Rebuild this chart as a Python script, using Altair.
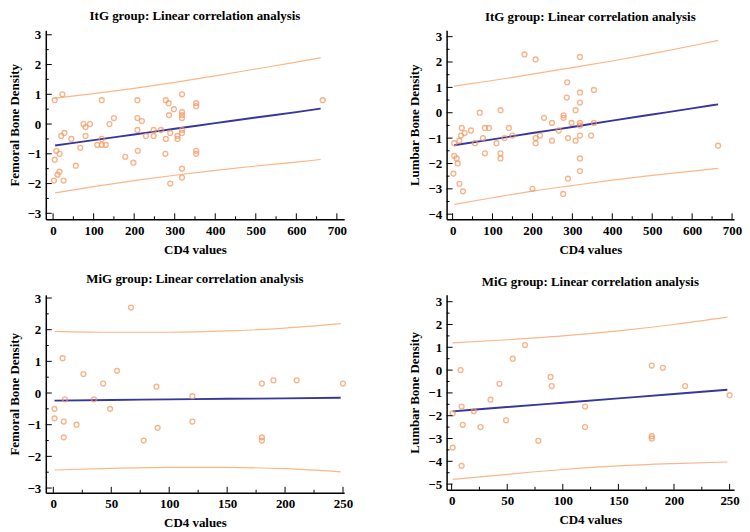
import altair as alt
import pandas as pd

# ---------------- data ----------------
# Panel 1: ItG group, Femoral Bone Density
p1_x = [4, 23, 120, 208, 278, 285, 298, 318, 318, 318, 318, 353, 353, 286, 208,
        219, 150, 139, 75, 91, 80, 20, 28, 45, 80, 67, 109, 120, 130, 120,
        208, 229, 248, 248, 266, 278, 289, 307, 307, 318, 318, 209, 277, 353, 353,
        8, 16, 4, 56, 178, 198, 16, 11, 2, 26, 318, 318, 289, 665]
p1_y = [0.8, 1.0, 0.8, 0.8, 0.8, 0.7, 0.5, 1.0, 0.4, 0.3, 0.2, 0.7, 0.6, 0.3, 0.2,
        0.1, 0.2, 0.0, 0.0, 0.0, -0.1, -0.4, -0.3, -0.5, -0.4, -0.8, -0.7, -0.7, -0.7, -0.5,
        -0.2, -0.4, -0.2, -0.4, -0.2, -0.5, -0.3, -0.4, -0.5, -0.2, -0.3, -0.9, -1.0, -0.9, -1.0,
        -0.9, -1.0, -1.2, -1.4, -1.1, -1.3, -1.6, -1.7, -1.9, -1.9, -1.5, -1.8, -2.0, 0.8]
p1_bx = [5, 100, 200, 300, 400, 500, 600, 660]
p1_fit = [-0.72, -0.54, -0.35, -0.16, 0.03, 0.22, 0.40, 0.52]
p1_lo = [-2.31, -2.10, -1.90, -1.72, -1.56, -1.41, -1.28, -1.19]
p1_hi = [0.87, 1.02, 1.20, 1.40, 1.62, 1.85, 2.08, 2.23]

# Panel 2: ItG group, Lumbar Bone Density
p2_x = [180, 208, 319, 287, 354, 319, 286, 319, 308, 120, 68, 278, 278, 229, 249,
        298, 319, 319, 354, 141, 81, 91, 23, 46, 266, 30, 21, 150, 219, 319,
        347, 76, 130, 208, 289, 4, 17, 56, 110, 208, 249, 308, 81, 120, 120,
        4, 10, 13, 319, 319, 2, 289, 17, 26, 200, 277, 665]
p2_y = [2.3, 2.1, 2.2, 1.2, 0.9, 0.8, 0.6, 0.4, 0.1, 0.1, 0.0, -0.1, -0.2, -0.2, -0.4,
        -0.4, -0.4, -0.5, -0.4, -0.6, -0.6, -0.6, -0.6, -0.7, -0.7, -0.8, -0.9, -0.9, -0.9, -0.9,
        -0.9, -1.0, -1.0, -1.0, -1.0, -1.2, -1.1, -1.2, -1.2, -1.2, -1.1, -1.1, -1.6, -1.6, -1.8,
        -1.7, -1.8, -2.0, -1.8, -2.3, -2.4, -2.6, -2.8, -3.1, -3.0, -3.2, -1.3]
p2_bx = [4, 100, 200, 300, 400, 500, 600, 665]
p2_fit = [-1.28, -1.05, -0.80, -0.56, -0.31, -0.07, 0.17, 0.33]
p2_lo = [-3.61, -3.35, -3.09, -2.87, -2.66, -2.47, -2.30, -2.19]
p2_hi = [1.05, 1.27, 1.52, 1.78, 2.04, 2.33, 2.64, 2.85]

# Panel 3: MiG group, Femoral Bone Density
p3_x = [67, 8, 26, 55, 43, 89, 10, 35, 120, 180, 190, 210, 250, 1, 49, 1, 9, 20,
        90, 120, 9, 78, 180, 180]
p3_y = [2.7, 1.1, 0.6, 0.7, 0.3, 0.2, -0.2, -0.2, -0.1, 0.3, 0.4, 0.4, 0.3, -0.5, -0.5,
        -0.8, -0.9, -1.0, -1.1, -0.9, -1.4, -1.5, -1.4, -1.5]
p3_bx = [1, 50, 100, 150, 200, 248]
p3_fit = [-0.24, -0.22, -0.20, -0.18, -0.17, -0.15]
p3_lo = [-2.43, -2.38, -2.35, -2.35, -2.39, -2.49]
p3_hi = [1.95, 1.92, 1.92, 1.96, 2.05, 2.19]

# Panel 4: MiG group, Lumbar Bone Density
p4_x = [66, 55, 8, 43, 89, 90, 35, 9, 20, 1, 10, 26, 49, 78, 120, 120, 180, 180,
        180, 190, 210, 250, 1, 9]
p4_y = [1.1, 0.5, 0.0, -0.6, -0.3, -0.7, -1.3, -1.6, -1.8, -1.9, -2.4, -2.5, -2.2, -3.1,
        -1.6, -2.5, -2.9, -3.0, 0.2, 0.1, -0.7, -1.1, -3.4, -4.2]
p4_bx = [1, 50, 100, 150, 200, 248]
p4_fit = [-1.81, -1.62, -1.43, -1.24, -1.05, -0.86]
p4_lo = [-4.79, -4.57, -4.36, -4.20, -4.10, -4.03]
p4_hi = [1.19, 1.33, 1.50, 1.72, 2.00, 2.32]

titles = ["ItG group: Linear correlation analysis", "ItG group: Linear correlation analysis",
          "MiG group: Linear correlation analysis", "MiG group: Linear correlation analysis"]
y_titles = ["Femoral Bone Density", "Lumbar Bone Density",
            "Femoral Bone Density", "Lumbar Bone Density"]
x_title = "CD4 values"

x_major_wide = [0, 100, 200, 300, 400, 500, 600, 700]
x_minor_wide = [50, 150, 250, 350, 450, 550, 650]
x_major_narrow = [0, 50, 100, 150, 200, 250]
x_minor_narrow = [25, 75, 125, 175, 225]
y_major_a = [-3, -2, -1, 0, 1, 2, 3]
y_minor_a = [-2.5, -1.5, -0.5, 0.5, 1.5, 2.5]
y_major_b = [-4, -3, -2, -1, 0, 1, 2, 3]
y_minor_b = [-3.5, -2.5, -1.5, -0.5, 0.5, 1.5, 2.5]
y_major_c = [-5, -4, -3, -2, -1, 0, 1, 2, 3]
y_minor_c = [-4.5, -3.5, -2.5, -1.5, -0.5, 0.5, 1.5, 2.5]

POINT = "#F5955A"
BAND = "#FBB68A"
FIT = "#36369F"
FONT = "Liberation Serif"


def panel(title, ytitle, px, py, bx, fit, lo, hi, xdom, ydom,
          xmaj, xmin, ymaj, ymin, w, h):
    xs = alt.Scale(domain=xdom, nice=False, zero=False)
    ys = alt.Scale(domain=ydom, nice=False, zero=False)
    xax = alt.Axis(values=xmaj, title=x_title, format="d")
    yax = alt.Axis(values=ymaj, title=ytitle, format="d")

    def X():
        return alt.X("x:Q", scale=xs, axis=xax)

    def Y():
        return alt.Y("y:Q", scale=ys, axis=yax)

    pts = alt.Chart(pd.DataFrame({"x": px, "y": py})).mark_point(
        shape="circle", filled=False, color=POINT, size=24, strokeWidth=1.4
    ).encode(x=X(), y=Y())

    def line(vals, color, sw):
        return alt.Chart(pd.DataFrame({"x": bx, "y": vals})).mark_line(
            color=color, strokeWidth=sw, interpolate="monotone"
        ).encode(x=X(), y=Y())

    ytk = alt.Chart(pd.DataFrame({"y": ymaj})).mark_rule(color="black", strokeWidth=1).encode(
        y=Y(), x=alt.value(0), x2=alt.value(6))
    ytm = alt.Chart(pd.DataFrame({"y": ymin})).mark_rule(color="black", strokeWidth=1).encode(
        y=Y(), x=alt.value(0), x2=alt.value(3))
    xtk = alt.Chart(pd.DataFrame({"x": xmaj})).mark_rule(color="black", strokeWidth=1).encode(
        x=X(), y=alt.value(h), y2=alt.value(h - 6))
    xtm = alt.Chart(pd.DataFrame({"x": xmin})).mark_rule(color="black", strokeWidth=1).encode(
        x=X(), y=alt.value(h), y2=alt.value(h - 3))

    return alt.layer(
        line(hi, BAND, 1.2), line(lo, BAND, 1.2), line(fit, FIT, 1.9), pts,
        ytk, ytm, xtk, xtm
    ).properties(
        width=w, height=h,
        title=alt.TitleParams(title, font=FONT, fontSize=13, fontWeight="bold",
                              color="black", offset=6)
    )


c1 = panel(titles[0], y_titles[0], p1_x, p1_y, p1_bx, p1_fit, p1_lo, p1_hi,
           [-18, 718], [-3.2, 3.15], x_major_wide, x_minor_wide, y_major_a, y_minor_a, 300, 190)
c2 = panel(titles[1], y_titles[1], p2_x, p2_y, p2_bx, p2_fit, p2_lo, p2_hi,
           [-15, 705], [-4.2, 3.25], x_major_wide, x_minor_wide, y_major_b, y_minor_b, 289, 190)
c3 = panel(titles[2], y_titles[2], p3_x, p3_y, p3_bx, p3_fit, p3_lo, p3_hi,
           [-6.5, 251], [-3.15, 3.1], x_major_narrow, x_minor_narrow, y_major_a, y_minor_a, 300, 199)
c4 = panel(titles[3], y_titles[3], p4_x, p4_y, p4_bx, p4_fit, p4_lo, p4_hi,
           [-4.5, 254], [-5.25, 3.3], x_major_narrow, x_minor_narrow, y_major_c, y_minor_c, 289, 196)

chart = alt.concat(c1, c2, c3, c4, columns=2, spacing={"row": 17, "column": 56}).properties(
    padding={"left": 0, "top": 0, "right": 0, "bottom": 0}
).configure_view(stroke=None).configure_axis(
    labelFont=FONT, labelFontSize=13, labelFontWeight="bold", labelColor="black",
    titleFont=FONT, titleFontSize=13, titleFontWeight="bold", titleColor="black",
    ticks=False, grid=False, domainColor="black", domainWidth=1.5,
    labelPadding=5, titlePadding=6
)

chart.save("out.html", embed_options={"renderer": "svg", "actions": False})
